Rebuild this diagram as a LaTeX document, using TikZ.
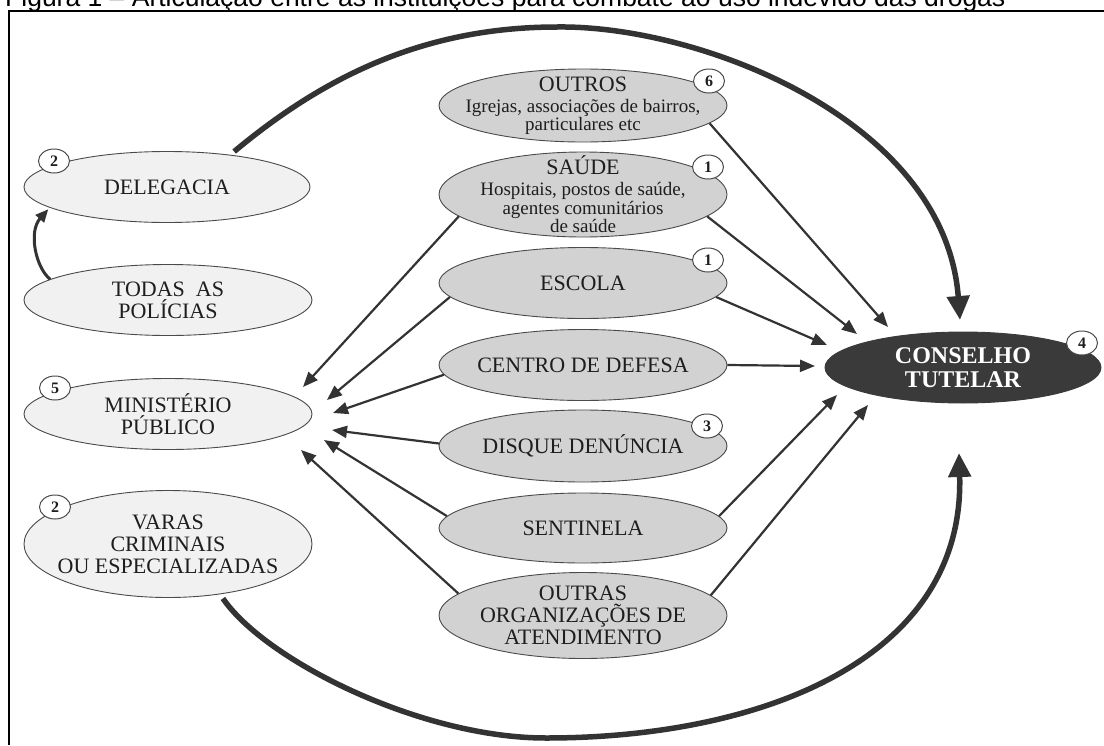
\documentclass[tikz,border=0pt]{standalone}
\usepackage{fontspec}
\setmainfont{Liberation Serif}
\newfontfamily\titlefont{Liberation Sans}
\usetikzlibrary{shapes.geometric,arrows.meta}
\definecolor{lightfill}{HTML}{F1F1F1}
\definecolor{midfill}{HTML}{D2D2D2}
\definecolor{darkfill}{HTML}{3A3A3A}
\definecolor{linecol}{HTML}{333333}
\definecolor{edgecol}{HTML}{4A4A4A}
\definecolor{txtcol}{HTML}{1E1E1E}
\tikzset{
  oval/.style={ellipse, draw=edgecol, line width=0.9pt, inner sep=0pt},
  leftnode/.style={oval, fill=lightfill, minimum width=288pt, minimum height=71pt},
  midnode/.style={oval, fill=midfill, minimum width=288pt, minimum height=71pt},
  txt/.style={font=\fontsize{22}{22}\selectfont, text=txtcol, align=center, inner sep=0pt},
  subtxt/.style={font=\fontsize{19}{18.5}\selectfont, text=txtcol, align=center, inner sep=0pt},
  badge/.style={ellipse, draw=edgecol, fill=white, line width=1pt, minimum width=31pt,
     minimum height=24pt, inner sep=0pt, text=txtcol, font=\fontsize{16}{16}\selectfont\bfseries},
  thinarrow/.style={draw=linecol, line width=2.2pt, -{Triangle[length=15pt,width=12pt]}},
  bigarrow/.style={draw=linecol, line width=5.5pt, -{Triangle[length=24pt,width=22pt]}},
  smallarrow/.style={draw=linecol, line width=3pt, -{Triangle[length=13pt,width=11pt]}},
}
\newcommand{\hd}[1]{{\fontsize{22}{22}\selectfont #1}}
\begin{document}
\begin{tikzpicture}[x=1pt,y=-1pt]
\useasboundingbox (0,0) rectangle (1104,745);
\clip (0,0) rectangle (1104,745);
\fill[white] (0,0) rectangle (1104,745);

% title (cut at the top, as in the reference) and frame
\node[anchor=base west, inner sep=0pt, font=\titlefont\fontsize{26.5}{26.5}\selectfont] (title) at (5,6)
  {Figura 1 – Articulação entre as instituições para combate ao uso indevido das drogas};
\draw[line width=2.5pt, black] (9,745) -- (9,11) -- (1104,11);

% left column
\node[leftnode, minimum width=286pt, label={[txt]center:DELEGACIA}] (deleg) at (167,187) {};
\node[leftnode, label={[txt]center:{TODAS\enspace AS\\POLÍCIAS}}] (todas) at (168,300) {};
\node[leftnode, label={[txt]center:{MINISTÉRIO\\PÚBLICO}}] (mp) at (168,414) {};
\node[leftnode, minimum height=107pt, label={[txt]center:{VARAS\\CRIMINAIS\\OU ESPECIALIZADAS}}] (varas) at (168,544) {};

% middle column
\node[midnode, minimum height=73pt, label={[subtxt]center:{\hd{OUTROS}\\[2.5pt]Igrejas, associações de bairros,\\particulares etc}}] (outros) at (583,105.5) {};
\node[midnode, minimum height=85pt, label={[subtxt]center:{\hd{SAÚDE}\\[2.5pt]Hospitais, postos de saúde,\\agentes comunitários\\de saúde}}] (saude) at (583,194.5) {};
\node[midnode, label={[txt]center:ESCOLA}] (escola) at (583,283) {};
\node[midnode, label={[txt]center:CENTRO DE DEFESA}] (centro) at (583,365) {};
\node[midnode, minimum height=72pt, label={[txt]center:DISQUE DENÚNCIA}] (disque) at (583,446) {};
\node[midnode, minimum height=70pt, label={[txt]center:SENTINELA}] (sentinela) at (583,528) {};
\node[midnode, minimum height=86pt, label={[txt]center:{OUTRAS\\ORGANIZAÇÕES DE\\ATENDIMENTO}}] (outras) at (583,615.5) {};

% right node
\node[oval, fill=darkfill, draw=darkfill, minimum width=276pt, minimum height=71pt,
  label={[txt, text=white, font=\fontsize{24}{24}\selectfont\bfseries]center:{CONSELHO\\TUTELAR}}] (conselho) at (963,367.5) {};

% badges
\node[badge] (b2a) at (54,161) {2};
\node[badge] (b5) at (55,388) {5};
\node[badge] (b2b) at (55,507) {2};
\node[badge] (b6) at (709,81) {6};
\node[badge] (b1a) at (708,167) {1};
\node[badge] (b1b) at (708,260) {1};
\node[badge] (b3) at (707,426) {3};
\node[badge] (b4) at (1082,343) {4};

% arrow end points
\coordinate (mp1) at (303,387);
\coordinate (mp2) at (327,400);
\coordinate (mp3) at (333,413);
\coordinate (mp4) at (332,430);
\coordinate (mp5) at (324,440);
\coordinate (mp6) at (301,450);
\coordinate (ct1) at (888,327);
\coordinate (ct2) at (857,334);
\coordinate (ct3) at (827,345);
\coordinate (ct4) at (815,366);
\coordinate (ct5) at (837,395);
\coordinate (ct6) at (868,405);
\coordinate (ctTop) at (960,320);
\coordinate (ctBot) at (959,453);

% arrows to Ministério Público
\draw[thinarrow] (saude.190) -- (mp1);
\draw[thinarrow] (escola.186) -- (mp2);
\draw[thinarrow] (centro.184) -- (mp3);
\draw[thinarrow] (disque.179) -- (mp4);
\draw[thinarrow] (sentinela.175) -- (mp5);
\draw[thinarrow] (outras.170) -- (mp6);

% arrows to Conselho Tutelar
\draw[thinarrow] (outros.352) -- (ct1);
\draw[thinarrow] (saude.350) -- (ct2);
\draw[thinarrow] (escola.354) -- (ct3);
\draw[thinarrow] (centro.east) -- (ct4);
\draw[thinarrow] (sentinela.5) -- (ct5);
\draw[thinarrow] (outras.9) -- (ct6);

% big curved arrows
\draw[bigarrow, shorten <=5pt] (deleg.27) .. controls (320,80) and (420,27) .. (557,27)
   .. controls (700,25) and (945,120) .. (ctTop);
\draw[bigarrow, shorten <=5pt] (varas.316) .. controls (265,660) and (420,738) .. (546,738)
   .. controls (760,738) and (965,660) .. (ctBot);

% small arrow from Todas as Polícias to Delegacia
\draw[smallarrow, shorten >=2pt] (todas.170) .. controls (36,268) and (28,232) .. (deleg.190);
\end{tikzpicture}
\end{document}
